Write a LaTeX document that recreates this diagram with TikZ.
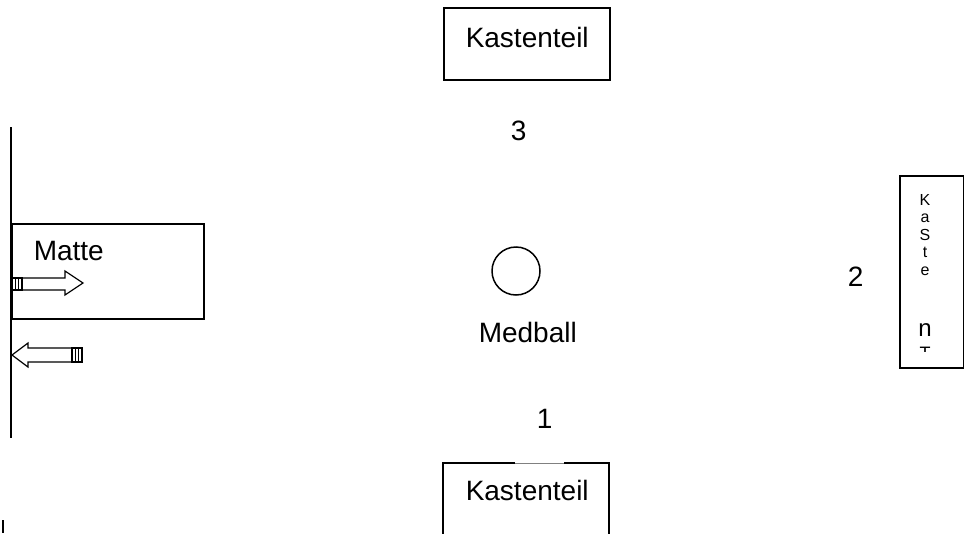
\documentclass[tikz,border=0pt]{standalone}
\usepackage{fontspec}
\setmainfont{Liberation Sans}
\begin{document}
\begin{tikzpicture}[x=1pt,y=-1pt,
  line width=1.5pt,
  lbl/.style={inner sep=0pt,anchor=base west,font=\fontsize{28}{30}\selectfont},
  small/.style={inner sep=0pt,anchor=base,font=\fontsize{16}{17}\selectfont},
  boxshape/.style={draw,rectangle,inner sep=0pt,anchor=north west}]
\useasboundingbox (0,0) rectangle (964,533);
% wall line
\coordinate (wtop) at (11,127);
\coordinate (wbot) at (11,438);
\draw (wtop) -- (wbot);
% Matte
\node[boxshape,minimum width=192pt,minimum height=95pt] (matte) at (11,223) {};
\node[lbl] (mattetxt) at (33,260) {Matte};
% top Kastenteil
\node[boxshape,minimum width=166pt,minimum height=72pt] (ktop) at (443,7) {};
\node[lbl] (ktoptxt) at (465,47) {Kastenteil};
% bottom Kastenteil (open bottom)
\draw (443,540) -- (443,463) -- (515,463);
\draw[gray,line width=0.8pt] (515,463) -- (564,463);
\draw (564,463) -- (609,463) -- (609,540);
\node[lbl] (kbottxt) at (465,500) {Kastenteil};
% numbers
\node[lbl] (n3) at (510,140) {3};
\node[lbl] (n1) at (536,428) {1};
\node[lbl] (n2) at (847,286) {2};
% Medball
\node[draw,circle,minimum size=48pt,inner sep=0pt] (ball) at (516,271) {};
\node[lbl] (medtxt) at (478,342) {Medball};
% right Kasten box
\node[boxshape,minimum width=64pt,minimum height=192pt] (kright) at (899,175) {};
\node[small] (lK) at (925,205) {K};
\node[small] (la) at (925,222) {a};
\node[small] (lS) at (925,240) {S};
\node[small] (lt) at (925,257) {t};
\node[small] (le) at (925,275) {e};
\node[inner sep=0pt,anchor=base,font=\fontsize{24}{26}\selectfont] (ln) at (925,336) {n};
\begin{scope}
\clip (910,344) rectangle (940,351);
\node[inner sep=0pt,anchor=base,font=\fontsize{18}{20}\selectfont] (lT) at (925,359) {T};
\end{scope}
% right arrow
\draw[line width=1.2pt] (22,278) -- (65,278) -- (65,271) -- (83,283) -- (65,295) -- (65,290) -- (22,290) -- cycle;
\draw[line width=1.2pt] (12,278) rectangle (22,290);
\draw[line width=1pt] (15.5,278) -- (15.5,290) (18.5,278) -- (18.5,290);
% left arrow
\draw[line width=1.2pt] (72,348) -- (28,348) -- (28,343) -- (12,355) -- (28,367) -- (28,362) -- (72,362) -- cycle;
\draw[line width=1.2pt] (72,348) rectangle (82,362);
\draw[line width=1pt] (75.5,348) -- (75.5,362) (78.5,348) -- (78.5,362);
% small mark bottom left
\draw (3,520) -- (3,533);
\end{tikzpicture}
\end{document}
